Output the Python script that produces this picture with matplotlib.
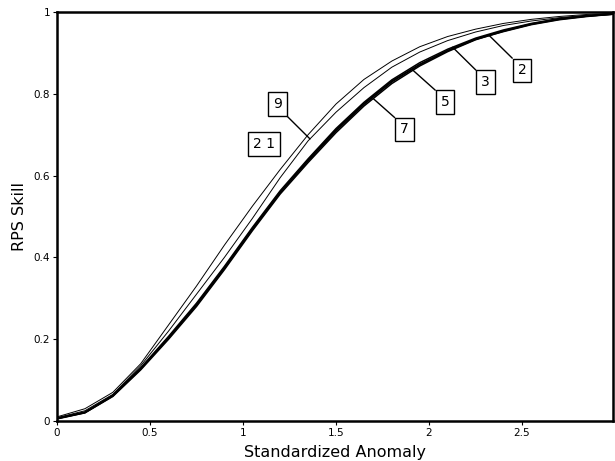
import numpy as np
import matplotlib
matplotlib.use("Agg")
from matplotlib import pyplot as plt

# standardized anomaly bins
anomaly = [0.0, 0.15, 0.3, 0.45, 0.6, 0.75, 0.9, 1.05, 1.2, 1.35, 1.5,
           1.65, 1.8, 1.95, 2.1, 2.25, 2.4, 2.55, 2.7, 2.85, 3.0]

# RPS skill per number of categories
rps_7 = [0.005, 0.02, 0.06, 0.125, 0.2, 0.28, 0.37, 0.465, 0.555, 0.632, 0.705,
         0.77, 0.825, 0.868, 0.903, 0.932, 0.953, 0.97, 0.982, 0.99, 0.995]
rps_5 = [0.006, 0.021, 0.062, 0.128, 0.204, 0.285, 0.375, 0.47, 0.56, 0.638, 0.712,
         0.776, 0.831, 0.872, 0.906, 0.934, 0.954, 0.971, 0.983, 0.99, 0.995]
rps_3 = [0.007, 0.022, 0.063, 0.13, 0.207, 0.288, 0.378, 0.473, 0.563, 0.641, 0.715,
         0.779, 0.834, 0.876, 0.909, 0.936, 0.956, 0.972, 0.984, 0.991, 0.996]
rps_2 = [0.006, 0.02, 0.061, 0.127, 0.203, 0.283, 0.373, 0.468, 0.558, 0.636, 0.709,
         0.774, 0.829, 0.871, 0.905, 0.933, 0.952, 0.969, 0.981, 0.989, 0.995]
rps_9 = [0.008, 0.025, 0.065, 0.135, 0.22, 0.31, 0.40, 0.495, 0.595, 0.685, 0.755,
         0.815, 0.865, 0.902, 0.93, 0.951, 0.967, 0.978, 0.986, 0.992, 0.996]
rps_21 = [0.01, 0.03, 0.07, 0.14, 0.235, 0.33, 0.43, 0.525, 0.615, 0.70, 0.775,
          0.835, 0.88, 0.915, 0.94, 0.958, 0.972, 0.982, 0.989, 0.994, 0.997]

# label text, box centre, x where leader meets the curve
labels = [
    ("9", rps_9, (1.185, 0.775), 1.36, (1, 0)),
    ("2 1", rps_21, (1.113, 0.677), None, None),
    ("7", rps_7, (1.868, 0.713), 1.70, (0, 1)),
    ("5", rps_5, (2.086, 0.780), 1.907, (0, 1)),
    ("3", rps_3, (2.304, 0.828), 2.127, (0, 1)),
    ("2", rps_2, (2.50, 0.857), 2.324, (0, 1)),
]

fig = plt.figure(figsize=(6.15, 4.61), dpi=100)
ax = fig.add_axes([0.0927, 0.0868, 0.9043, 0.8872])

for ys in (rps_7, rps_5, rps_3, rps_2):
    ax.plot(anomaly, ys, color="black", lw=1.1)
ax.plot(anomaly, rps_9, color="black", lw=0.7)
ax.plot(anomaly, rps_21, color="black", lw=0.7)

for txt, ys, pos, xc, rel in labels:
    box = dict(boxstyle="square,pad=0.35", fc="white", ec="black", lw=1.0)
    if xc is None:
        ax.text(pos[0], pos[1], txt, ha="center", va="center", fontsize=10, bbox=box)
    else:
        yc = np.interp(xc, anomaly, ys)
        ax.annotate(txt, xy=(xc, yc), xytext=pos, ha="center", va="center",
                    fontsize=10, bbox=box,
                    arrowprops=dict(arrowstyle="-", color="black", lw=1.0,
                                    relpos=rel, shrinkA=0, shrinkB=0))

ax.set_xlim(0, 2.99)
ax.set_ylim(0, 1)
ax.set_xticks([0, 0.5, 1, 1.5, 2, 2.5])
ax.set_xticklabels(["0", "0.5", "1", "1.5", "2", "2.5"])
ax.set_yticks([0, 0.2, 0.4, 0.6, 0.8, 1])
ax.set_yticklabels(["0", "0.2", "0.4", "0.6", "0.8", "1"])
ax.tick_params(labelsize=7.5, length=3, width=0.8, pad=2)
for s in ax.spines.values():
    s.set_linewidth(1.8)

ax.set_xlabel("Standardized Anomaly", fontsize=11.5, labelpad=5)
ax.set_ylabel("RPS Skill", fontsize=11.5, labelpad=5)

fig.savefig("out.png", dpi=100)
